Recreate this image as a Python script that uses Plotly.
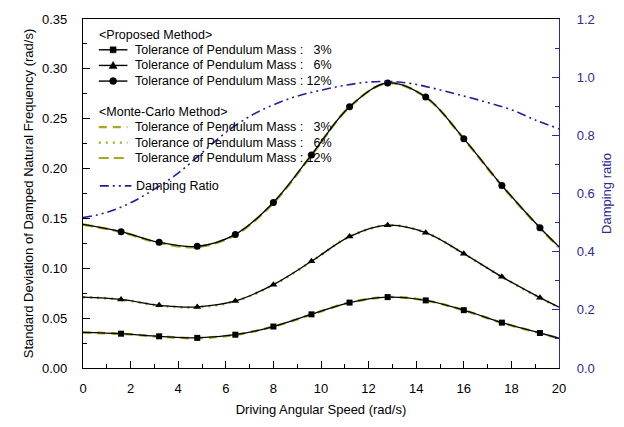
import plotly.graph_objects as go

# ---------------- data ----------------
x_full = [0, 1.6, 3.2, 4.8, 6.4, 8.0, 9.6, 11.2, 12.8, 14.4, 16.0, 17.6, 19.2, 20]
x_mark = [1.6, 3.2, 4.8, 6.4, 8.0, 9.6, 11.2, 12.8, 14.4, 16.0, 17.6, 19.2]

prop_3 = [0.0357, 0.0344, 0.0318, 0.0302, 0.0334, 0.0416, 0.0538, 0.0656, 0.0711, 0.0678, 0.0580, 0.0455, 0.0351, 0.0300]
prop_6 = [0.0711, 0.0688, 0.0629, 0.0613, 0.0672, 0.0836, 0.1070, 0.1318, 0.1432, 0.1357, 0.1147, 0.0914, 0.0705, 0.0610]
prop_12 = [0.1440, 0.1367, 0.1260, 0.1220, 0.1340, 0.1660, 0.2137, 0.2620, 0.2858, 0.2717, 0.2300, 0.1830, 0.1406, 0.1215]

mc_3 = [0.0356, 0.0343, 0.0316, 0.0300, 0.0333, 0.0415, 0.0537, 0.0656, 0.0711, 0.0678, 0.0579, 0.0454, 0.0350, 0.0298]
mc_6 = [0.0710, 0.0687, 0.0627, 0.0610, 0.0670, 0.0834, 0.1069, 0.1318, 0.1432, 0.1357, 0.1146, 0.0913, 0.0704, 0.0608]
mc_12 = [0.1438, 0.1365, 0.1256, 0.1214, 0.1336, 0.1656, 0.2134, 0.2618, 0.2858, 0.2716, 0.2298, 0.1828, 0.1404, 0.1212]

x_damp = [0, 1, 2, 3, 4, 5, 6, 7, 8, 9, 10, 11, 12, 13, 14, 15, 16, 17, 18, 19, 20]
damping = [0.517, 0.535, 0.568, 0.615, 0.67, 0.74, 0.81, 0.865, 0.905, 0.935, 0.955, 0.972, 0.983, 0.985, 0.975, 0.956, 0.935, 0.913, 0.888, 0.853, 0.822]

labels = ["Tolerance of Pendulum Mass :\u00a0\u00a0\u00a03%",
          "Tolerance of Pendulum Mass :\u00a0\u00a0\u00a06%",
          "Tolerance of Pendulum Mass :\u00a012%"]
group_titles = ["<Proposed Method>", "<Monte-Carlo Method>"]
damp_label = "Damping Ratio"

OLIVE = "#a9a520"
NAVY = "#1f1fa0"
AXBLUE = "#2b2b95"
FONT = "Liberation Sans, Arial, sans-serif"

# plot-area geometry (pixels)
W, H = 624, 427
L, R, T, B = 83, 59, 12, 58
PW, PH = W - L - R, H - T - B


def fx(px):
    return (px - L) / PW


def fy(py):
    return (H - B - py) / PH


fig = go.Figure()

# Monte-Carlo (drawn first, underneath)
mc_series = [mc_3, mc_6, mc_12]
mc_dash = ["8px,6px", "2px,5px", "10px,5px"]
for i, ys in enumerate(mc_series):
    fig.add_trace(go.Scatter(
        x=x_full, y=ys, mode="lines",
        line=dict(color=OLIVE, width=2.6, dash=mc_dash[i], shape="spline"),
        showlegend=False,
    ))

# Proposed method
prop_series = [prop_3, prop_6, prop_12]
symbols = ["square", "triangle-up", "circle"]
sizes = [6, 7, 7]
for i, ys in enumerate(prop_series):
    fig.add_trace(go.Scatter(
        x=x_full, y=ys, mode="lines", line=dict(color="black", width=1.3, shape="spline"),
        showlegend=False, hoverinfo="skip",
    ))
    ym = [ys[x_full.index(v)] for v in x_mark]
    fig.add_trace(go.Scatter(
        x=x_mark, y=ym, mode="markers",
        marker=dict(symbol=symbols[i], size=sizes[i], color="black"),
        showlegend=False,
    ))

# Damping ratio
DAMP_DASH = "9px,4px,2px,4px,2px,4px"
fig.add_trace(go.Scatter(
    x=x_damp, y=damping, mode="lines", yaxis="y2",
    line=dict(color=NAVY, width=1.6, dash=DAMP_DASH, shape="spline"),
    showlegend=False,
))

# ---------------- manual legend ----------------
shapes = []
annots = []
LEG_FONT = dict(family=FONT, size=12.5, color="black")


def add_text(px, py, text):
    annots.append(dict(x=fx(px), y=fy(py), xref="paper", yref="paper", text=text,
                       showarrow=False, xanchor="left", yanchor="middle", font=LEG_FONT,
                       borderpad=0))


def add_line(x0, x1, py, color, width, dash="solid"):
    shapes.append(dict(type="line", xref="paper", yref="paper",
                       x0=fx(x0), x1=fx(x1), y0=fy(py), y1=fy(py),
                       line=dict(color=color, width=width, dash=dash)))


def add_marker(px, py, kind):
    base = dict(xref="paper", yref="paper", xsizemode="pixel", ysizemode="pixel",
                xanchor=fx(px), yanchor=fy(py), fillcolor="black",
                line=dict(color="black", width=0.5))
    if kind == "square":
        shapes.append(dict(type="rect", x0=-3, x1=3, y0=-3, y1=3, **base))
    elif kind == "circle":
        shapes.append(dict(type="circle", x0=-3.5, x1=3.5, y0=-3.5, y1=3.5, **base))
    else:
        shapes.append(dict(type="path", path="M -4 -3 L 4 -3 L 0 4 Z", **base))


add_text(98, 28, group_titles[0])
prop_rows = [43.5, 59.5, 75.5]
for i, py in enumerate(prop_rows):
    add_line(99, 128, py, "black", 1.4)
    add_marker(113.5, py, symbols[i])
    add_text(135, py, labels[i])

add_text(98, 107.5, group_titles[1])
mc_rows = [122.7, 138.5, 154.2]
for i, py in enumerate(mc_rows):
    add_line(99, 128, py, OLIVE, 2.2, mc_dash[i])
    add_text(135, py, labels[i])

add_line(100, 132, 182.7, NAVY, 1.6, DAMP_DASH)
add_text(136, 182.7, damp_label)

fig.update_layout(
    width=W, height=H,
    margin=dict(l=L, r=R, t=T, b=B),
    paper_bgcolor="white", plot_bgcolor="white",
    font=dict(family=FONT, size=13, color="black"),
    showlegend=False,
    shapes=shapes, annotations=annots,
    xaxis=dict(
        range=[0, 20], dtick=2, tick0=0, showgrid=False, zeroline=False,
        showline=True, linecolor="black", linewidth=1.2, mirror=True,
        ticks="inside", ticklen=7, tickcolor="black",
        minor=dict(ticks="inside", dtick=1, ticklen=4, tickcolor="black"),
        tickfont=dict(size=13), ticklabelstandoff=8,
        title=dict(text="Driving Angular Speed (rad/s)", font=dict(size=13), standoff=10),
    ),
    yaxis=dict(
        range=[0, 0.35], dtick=0.05, tick0=0, tickformat=".2f", showgrid=False, zeroline=False,
        showline=True, linecolor="black", linewidth=1.2,
        ticks="inside", ticklen=7, tickcolor="black",
        minor=dict(ticks="inside", dtick=0.025, ticklen=4, tickcolor="black"),
        tickfont=dict(size=13), ticklabelstandoff=12,
        title=dict(text="Standard Deviation of Damped Natural Frequency (rad/s)", font=dict(size=13), standoff=5),
    ),
    yaxis2=dict(
        range=[0, 1.2], dtick=0.2, tick0=0, tickformat=".1f", overlaying="y", side="right",
        showgrid=False, zeroline=False,
        showline=True, linecolor=AXBLUE, linewidth=1.2,
        ticks="inside", ticklen=7, tickcolor=AXBLUE,
        minor=dict(ticks="inside", dtick=0.1, ticklen=4, tickcolor=AXBLUE),
        tickfont=dict(size=13, color=AXBLUE), ticklabelstandoff=14,
        title=dict(text="Damping ratio", font=dict(size=13, color=AXBLUE), standoff=8),
    ),
)

fig.write_html("out.html")
